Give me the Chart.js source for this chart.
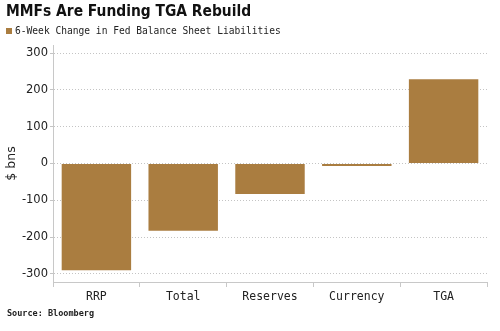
<!DOCTYPE html>
<html>
<head>
<meta charset="utf-8">
<script src="https://cdn.jsdelivr.net/npm/chart.js@4"></script>
<style>
  html, body { margin: 0; padding: 0; background: #fff; }
  #wrap { position: relative; width: 500px; height: 331px; overflow: hidden; }
  #chart { position: absolute; left: 0; top: 0; }
  .title { position: absolute; left: 6px; top: 2px; font: bold 15.4px "DejaVu Sans Condensed", "DejaVu Sans", sans-serif; color: #111; }
  .legend { position: absolute; left: 6px; top: 25px; font: 9.6px "DejaVu Sans Mono", monospace; color: #222; display: flex; align-items: center; }
  .legend span.box { display: inline-block; width: 6px; height: 6px; margin-right: 3px; }
  .source { position: absolute; left: 7px; top: 308px; font: bold 8.5px "DejaVu Sans Mono", monospace; color: #222; }
</style>
</head>
<body>
<div id="wrap">
  <canvas id="chart" width="500" height="331"></canvas>
  <div class="title" id="title"></div>
  <div class="legend" id="legend"></div>
  <div class="source" id="source"></div>
</div>
<script>
// chart data
const chartTitle = 'MMFs Are Funding TGA Rebuild'
const seriesLabel = '6-Week Change in Fed Balance Sheet Liabilities'
const categories = ['RRP', 'Total', 'Reserves', 'Currency', 'TGA']
const changeValues = [-290, -183, -83, -7, 229]
const yTicks = [-300, -200, -100, 0, 100, 200, 300]
const yAxisTitle = '$ bns'
const sourceText = 'Source: Bloomberg'

const barColor = '#AA7D40'

document.getElementById('title').textContent = chartTitle
document.getElementById('source').textContent = sourceText
const legendEl = document.getElementById('legend')
const box = document.createElement('span')
box.className = 'box'
box.style.background = barColor
legendEl.appendChild(box)
legendEl.appendChild(document.createTextNode(seriesLabel))

const ctx = document.getElementById('chart').getContext('2d')
new Chart(ctx, {
    type: 'bar',
    data: {
        labels: categories,
        datasets: [{
            label: seriesLabel,
            data: changeValues,
            backgroundColor: barColor,
            barPercentage: 0.8,
            categoryPercentage: 1.0,
        }],
    },
    options: {
        responsive: false,
        animation: false,
        layout: { padding: { left: 0, top: 45, right: 13, bottom: 24 } },
        plugins: {
            legend: { display: false },
            tooltip: { enabled: false },
        },
        scales: {
            x: {
                grid: { drawOnChartArea: false, drawTicks: true, tickLength: 5, offset: true, color: '#c8c8c8' },
                border: { display: true, color: '#c8c8c8' },
                ticks: { color: '#222', font: { family: 'DejaVu Sans Mono', size: 11.5 }, padding: 3 },
                afterFit: (scale) => { scale.height = 25 },
            },
            y: {
                min: -322,
                max: 322,
                afterBuildTicks: (scale) => { scale.ticks = yTicks.map(v => ({ value: v })) },
                grid: { color: '#c4c4c4', tickLength: 3 },
                border: { display: true, color: '#c8c8c8', dash: [1, 2] },
                ticks: { color: '#222', font: { family: 'DejaVu Sans', size: 11.5 }, padding: 2 },
                title: { display: true, text: yAxisTitle, color: '#222', font: { family: 'DejaVu Sans', size: 12.5 }, padding: { top: 4, bottom: 0 } },
                afterFit: (scale) => { scale.width = 53 },
            },
        },
    },
})
</script>
</body>
</html>
